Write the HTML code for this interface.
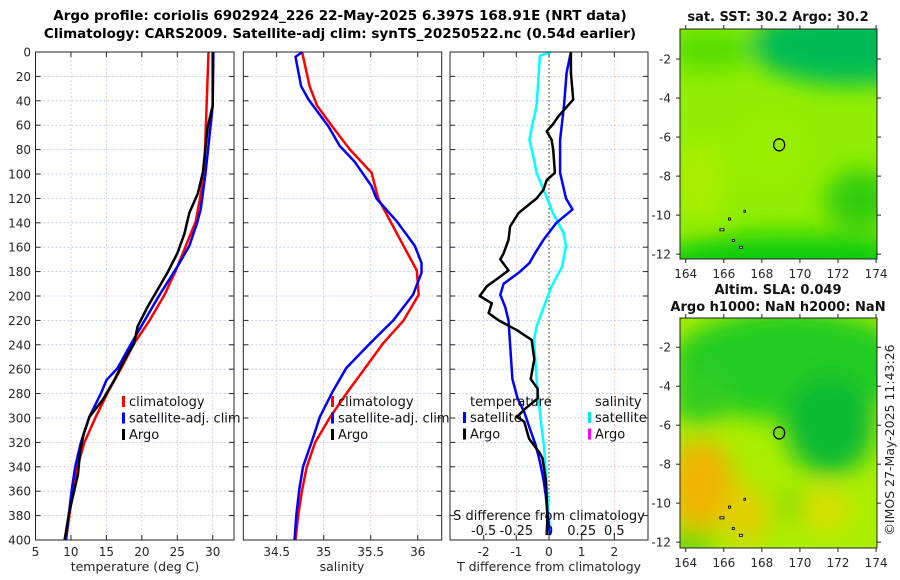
<!DOCTYPE html>
<html><head><meta charset="utf-8"><style>
html,body{margin:0;padding:0;background:#fff;width:900px;height:580px;overflow:hidden}
svg{display:block;font-family:"DejaVu Sans","Liberation Sans",sans-serif}
</style></head><body>
<svg id="chart" width="900" height="580" viewBox="0 0 900 580" xmlns="http://www.w3.org/2000/svg">
<defs>
<filter id="blur12" x="-50%" y="-50%" width="200%" height="200%"><feGaussianBlur stdDeviation="12"/></filter>
<clipPath id="clipTop"><rect x="680" y="29" width="197" height="230"/></clipPath>
<clipPath id="clipBot"><rect x="680" y="318" width="197" height="230"/></clipPath>
</defs>
<text x="340" y="20" text-anchor="middle" font-size="13.5" font-weight="bold">Argo profile: coriolis 6902924_226 22-May-2025 6.397S 168.91E (NRT data)</text>
<text x="340" y="38" text-anchor="middle" font-size="13.5" font-weight="bold">Climatology: CARS2009. Satellite-adj clim: synTS_20250522.nc (0.54d earlier)</text>
<g id="maps">
<g clip-path="url(#clipTop)">
<rect x="680" y="29" width="197" height="230" fill="#90ee00"/>
<g filter="url(#blur12)">
<ellipse cx="850" cy="45" rx="100" ry="40" fill="#00bb55"/>
<ellipse cx="710" cy="50" rx="45" ry="20" fill="#55dd00"/>
<ellipse cx="790" cy="262" rx="140" ry="28" fill="#11cc11"/>
<ellipse cx="860" cy="200" rx="35" ry="30" fill="#33cc11"/>
<ellipse cx="700" cy="180" rx="25" ry="40" fill="#aaee00"/>
<ellipse cx="770" cy="150" rx="40" ry="40" fill="#99ee00"/>
</g>
</g>
<rect x="680" y="29" width="197" height="230" fill="none" stroke="#222" stroke-width="1"/>
<g clip-path="url(#clipBot)">
<rect x="680" y="318" width="197" height="230" fill="#aaee00"/>
<g filter="url(#blur12)">
<ellipse cx="790" cy="365" rx="120" ry="55" fill="#22cc22"/>
<ellipse cx="830" cy="425" rx="45" ry="50" fill="#11bb33"/>
<ellipse cx="700" cy="395" rx="30" ry="30" fill="#33cc22"/>
<ellipse cx="700" cy="485" rx="35" ry="45" fill="#f0b400"/>
<ellipse cx="745" cy="515" rx="25" ry="30" fill="#e0d000"/>
<ellipse cx="825" cy="510" rx="25" ry="20" fill="#dddd00"/>
<ellipse cx="790" cy="505" rx="15" ry="15" fill="#88dd00"/>
<ellipse cx="690" cy="545" rx="25" ry="10" fill="#44cc11"/>
</g>
</g>
<rect x="680" y="318" width="197" height="230" fill="none" stroke="#222" stroke-width="1"/>
</g>
<g id="axes"></g>
</svg>
<script>
// ---------- Panel 1: temperature ----------
const tempDepthsClim = [0,99,120,139,159,179,199,220,239,259,279,299,320,340,359,379,400];
const tempClim = [29.4,28.8,28.2,27.6,26.2,24.8,23.2,21.1,18.9,17.1,15.2,13.5,11.9,10.9,10.3,9.8,9.3];
const tempDepthsSat = [0,44,99,129,140,159,176,199,220,239,259,269,279,299,320,340,359,379,400];
const tempSat = [30.1,30.0,29.0,28.3,27.8,26.7,25.0,22.5,20.4,18.5,16.6,15.0,14.3,12.6,11.4,10.6,10.1,9.7,9.3];
const tempDepthsArgo = [0,44,61,99,116,132,149,165,181,192,209,225,239,253,269,285,299,313,327,346,379,400];
const tempArgo = [30.0,30.0,29.3,28.6,27.9,26.7,26.0,25.0,23.6,22.5,20.8,19.4,18.9,17.5,16.1,14.5,12.6,11.8,11.3,11.0,9.7,9.1];
const tempTicks = [5,10,15,20,25,30];
const depthTicks = [0,20,40,60,80,100,120,140,160,180,200,220,240,260,280,300,320,340,360,380,400];
// ---------- Panel 2: salinity ----------
const salDepthsClim = [0,28,44,61,80,99,120,139,159,179,199,220,239,259,279,299,320,340,359,379,400];
const salClim = [34.77,34.85,34.93,35.09,35.28,35.51,35.58,35.71,35.85,35.99,36.01,35.85,35.63,35.44,35.25,35.07,34.91,34.82,34.77,34.73,34.70];
const salDepthsSat = [0,4,28,39,61,77,90,110,120,139,159,173,181,199,220,239,259,279,299,320,340,359,379,400];
const salSat = [34.77,34.70,34.76,34.84,35.05,35.17,35.33,35.51,35.56,35.78,35.97,36.04,36.04,35.95,35.74,35.49,35.24,35.09,34.96,34.87,34.78,34.74,34.71,34.69];
const salTicks = [34.5,35,35.5,36];
const salTickLabels = ["34.5","35","35.5","36"];
// ---------- Panel 3: differences ----------
const dTDepthsArgo = [0,17,39,53,59,65,72,80,99,105,113,120,132,143,154,165,170,179,185,192,200,206,214,220,228,236,252,268,276,284,292,299,303,317,328,333,350,366,382,396];
const dTArgo = [0.67,0.67,0.74,0.28,0.13,-0.07,0.08,0.13,0.18,-0.07,-0.17,-0.38,-0.93,-1.19,-1.24,-1.39,-1.49,-1.24,-1.54,-1.9,-2.12,-1.75,-1.85,-1.54,-0.98,-0.53,-0.45,-0.56,-0.35,-0.35,-0.71,-0.98,-0.76,-0.61,-0.3,-0.2,-0.1,-0.07,-0.05,-0.07];
const dTDepthsSat = [0,17,44,72,99,120,129,140,154,165,173,181,190,199,209,220,236,268,284,295,309,322,337,350,363,377,396];
const dTSat = [0.67,0.54,0.46,0.34,0.34,0.52,0.72,0.23,-0.17,-0.43,-0.6,-0.93,-1.39,-1.49,-1.34,-1.24,-1.2,-1.12,-0.96,-0.76,-0.58,-0.41,-0.27,-0.17,-0.1,-0.05,0.03];
const dSDepthsSat = [0,3,44,61,72,83,99,116,132,148,159,176,192,209,225,236,268,284,300,322,350,377,396];
const dSSat = [0.015,-0.07,-0.095,-0.13,-0.15,-0.125,-0.095,-0.03,0.03,0.11,0.13,0.1,0.02,-0.04,-0.095,-0.115,-0.095,-0.08,-0.065,-0.04,-0.02,-0.005,0.01];
const dTTicks = [-2,-1,0,1,2];
const dSTicks = [-0.5,-0.25,0,0.25,0.5];
const dSTickLabels = ["-0.5","-0.25","0","0.25","0.5"];
// ---------- Maps ----------
const lonTicks = [164,166,168,170,172,174];
const latTicks = [-2,-4,-6,-8,-10,-12];
const argoLon = 168.91, argoLat = -6.397;

const NS = "http://www.w3.org/2000/svg";
const g = document.getElementById('axes');
function el(tag, attrs, parent){ const e=document.createElementNS(NS,tag); for(const k in attrs) e.setAttribute(k,attrs[k]); (parent||g).appendChild(e); return e; }
function txt(x,y,s,attrs,parent){ const e=el('text',Object.assign({x:x,y:y,'font-size':12,fill:'#262626'},attrs||{}),parent); e.textContent=s; return e; }

const Y0=52, Y1=540;
const yD = d => Y0 + (Y1-Y0)*d/400;
function lin(d0,d1,p0,p1){ return v => p0 + (v-d0)*(p1-p0)/(d1-d0); }

function panel(name, x0, x1, xTicks, xScale, gridTicks){
  const pg = el('g',{});
  
  
  depthTicks.forEach(d=>{ if(d>0&&d<400) el('line',{x1:x0,x2:x1,y1:yD(d),y2:yD(d),stroke:'#b8c4e8','stroke-width':0.8,'stroke-dasharray':'2,2'},pg); });
  gridTicks.forEach(t=>{ const x=xScale(t); el('line',{x1:x,x2:x,y1:Y0,y2:Y1,stroke:'#e8c4b8','stroke-width':0.8,'stroke-dasharray':'2,2'},pg); });
  depthTicks.forEach(d=>{ el('line',{x1:x0,x2:x0+5,y1:yD(d),y2:yD(d),stroke:'#262626'},pg); el('line',{x1:x1-5,x2:x1,y1:yD(d),y2:yD(d),stroke:'#262626'},pg); });
  xTicks.forEach(t=>{ const x=xScale(t); el('line',{x1:x,x2:x,y1:Y1,y2:Y1-5,stroke:'#262626'},pg); el('line',{x1:x,x2:x,y1:Y0,y2:Y0+5,stroke:'#262626'},pg); });
  return pg;
}
function frame(x0,x1,pg){ el('rect',{x:x0,y:Y0,width:x1-x0,height:Y1-Y0,fill:'none',stroke:'#262626','stroke-width':1},pg); }
function line(xs, ds, xScale, color, name, pg){
  const p = el('polyline',{points:xs.map((v,i)=>xScale(v).toFixed(1)+','+yD(ds[i]).toFixed(1)).join(' '),fill:'none',stroke:color,'stroke-width':2.5,'stroke-linejoin':'round'},pg);
  
  
  return p;
}
function legend(x, y, items, pg){
  items.forEach((it,i)=>{
    const yy=y+i*16.5;
    el('rect',{x:x,y:yy-10,width:3,height:11,fill:it[1]},pg);
    const t=txt(x+7,yy,it[0],{'font-size':13,fill:'#111'},pg);
    
    
  });
}

const xT = lin(5,33,35.5,234);
const p1 = panel('temperature-panel',35.5,234,tempTicks,xT,tempTicks.slice(1));
line(tempClim,tempDepthsClim,xT,'#ff0000','climatology-temp-line',p1);
line(tempSat,tempDepthsSat,xT,'#0000ff','satellite-temp-line',p1);
line(tempArgo,tempDepthsArgo,xT,'#000000','argo-temp-line',p1);
frame(35.5,234,p1);
tempTicks.forEach(t=>txt(xT(t),556,String(t),{'text-anchor':'middle'},p1));
depthTicks.forEach(d=>txt(31,yD(d)+4.5,String(d),{'text-anchor':'end'},p1));
txt(135,571,'temperature (deg C)',{'text-anchor':'middle','font-size':12.5},p1);
legend(122,406,[['climatology','#ff0000'],['satellite-adj. clim','#0000ff'],['Argo','#000000']],p1);

const xS = lin(34.145,36.255,243.3,441.7);
const p2 = panel('salinity-panel',243.3,441.7,salTicks,xS,salTicks);
line(salClim,salDepthsClim,xS,'#ff0000','climatology-salinity-line',p2);
line(salSat,salDepthsSat,xS,'#0000ff','satellite-salinity-line',p2);
frame(243.3,441.7,p2);
salTicks.forEach((t,i)=>txt(xS(t),556,salTickLabels[i],{'text-anchor':'middle'},p2));
txt(342,571,'salinity',{'text-anchor':'middle','font-size':12.5},p2);
legend(331,406,[['climatology','#ff0000'],['satellite-adj. clim','#0000ff'],['Argo','#000000']],p2);

const xD = lin(-3.03,3.03,450,648);
const xDS = v => xD(v*4);
const p3 = panel('difference-panel',450,648,dTTicks,xD,dTTicks);
el('line',{x1:xD(0),x2:xD(0),y1:Y0,y2:Y1,stroke:'#556633','stroke-width':1.2,'stroke-dasharray':'1.5,2.5'},p3);
line(dSSat,dSDepthsSat,xDS,'#00ffff','satellite-salinity-diff-line',p3);
line(dTSat,dTDepthsSat,xD,'#0000ff','satellite-temp-diff-line',p3);
line(dTArgo,dTDepthsArgo,xD,'#000000','argo-temp-diff-line',p3);
frame(450,648,p3);
dTTicks.forEach(t=>txt(xD(t),556,String(t),{'text-anchor':'middle'},p3));
txt(549,571,'T difference from climatology',{'text-anchor':'middle','font-size':12.5},p3);
txt(549,520,'S difference from climatology',{'text-anchor':'middle','font-size':13,fill:'#111'},p3);
dSTicks.forEach((t,i)=>txt(xDS(t),535,dSTickLabels[i],{'text-anchor':'middle','font-size':13,fill:'#111'},p3));
txt(470,406,'temperature',{'font-size':13,fill:'#111'},p3);
txt(595,406,'salinity',{'font-size':13,fill:'#111'},p3);
legend(463,422,[['satellite','#0000ff'],['Argo','#000000']],p3);
legend(588,422,[['satellite','#00e5e5'],['Argo','#ff00ff']],p3);

function mapAxes(name, y0, y1, latTop, latBot, title1, title2){
  const mg = el('g',{});
  
  
  const xL = lin(163.7,174.05,680,877), yL = lin(latTop,latBot,y0,y1);
  lonTicks.forEach(t=>{ const x=xL(t); el('line',{x1:x,x2:x,y1:y1,y2:y1+4,stroke:'#262626'},mg); el('line',{x1:x,x2:x,y1:y0,y2:y0-4,stroke:'#262626'},mg); txt(x,y1+19,String(t),{'text-anchor':'middle'},mg); });
  latTicks.forEach(t=>{ const y=yL(t); el('line',{x1:676,x2:680,y1:y,y2:y,stroke:'#262626'},mg); el('line',{x1:877,x2:881,y1:y,y2:y,stroke:'#262626'},mg); txt(671,y+4.5,String(t),{'text-anchor':'end'},mg); });
  const c = el('ellipse',{cx:xL(argoLon),cy:yL(argoLat),rx:5.5,ry:6,fill:'none',stroke:'#000','stroke-width':1.3},mg);
  
  
  [[166.3,-10.2,2],[165.9,-10.75,4],[166.5,-11.3,2],[166.9,-11.65,3],[167.1,-9.8,1.5]].forEach(p=>el('rect',{x:xL(p[0])-p[2]/2,y:yL(p[1])-1,width:p[2],height:2,fill:'#fff',stroke:'#000','stroke-width':0.9},mg));
  if(title1) txt(778,y0-(title2?24:8),title1,{'text-anchor':'middle','font-size':13,'font-weight':'bold',fill:'#111'},mg);
  if(title2) txt(778,y0-7,title2,{'text-anchor':'middle','font-size':13,'font-weight':'bold',fill:'#111'},mg);
}
mapAxes('sst-map-axes',29,259,-0.46,-12.25,'sat. SST: 30.2 Argo: 30.2',null);
mapAxes('sla-map-axes',318,548,-0.5,-12.3,'Altim. SLA: 0.049','Argo h1000: NaN h2000: NaN');
const cr = txt(0,0,'©IMOS 27-May-2025 11:43:26',{'text-anchor':'middle','font-size':12.5,transform:'translate(894,440) rotate(-90)'});


</script>
</body></html>
